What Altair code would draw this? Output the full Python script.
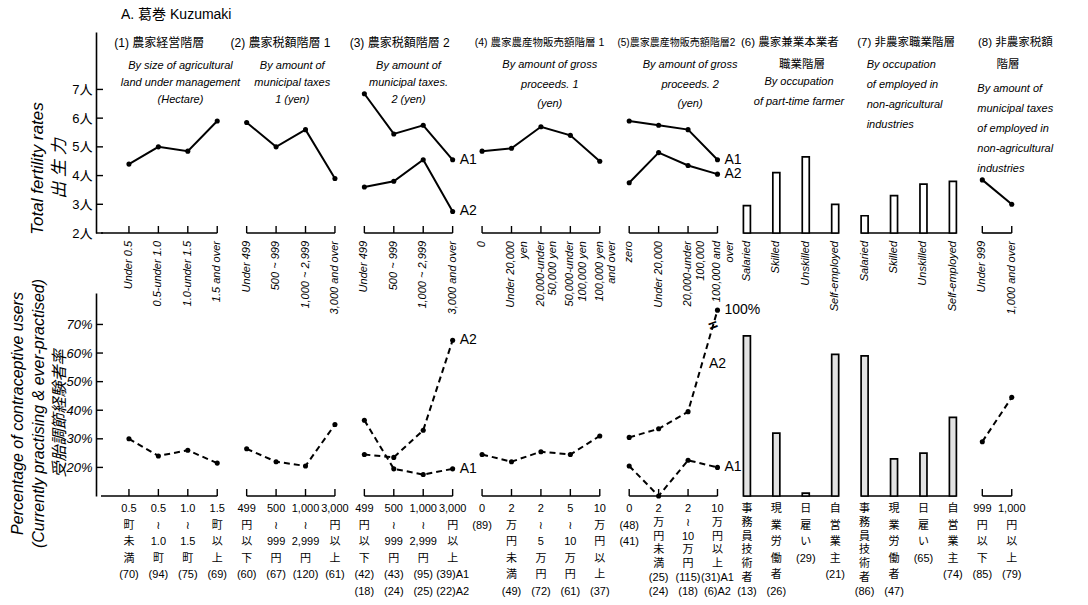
import altair as alt
import pandas as pd

# ------------------------------------------------------------------ data
title_main = "A. 葛巻  Kuzumaki"

headers = ["(1) 農家経営階層", "(2) 農家税額階層 1", "(3) 農家税額階層 2",
           "(4) 農家農産物販売額階層 1", "(5)農家農産物販売額階層2",
           "(6) 農家兼業本業者", "(7) 非農家職業階層", "(8) 非農家税額"]
headers2 = ["", "", "", "", "", "職業階層", "", "階層"]
descriptions = [
    "By size of agricultural\nland under management\n(Hectare)",
    "By amount of\nmunicipal taxes\n1          (yen)",
    "By amount of\nmunicipal taxes.\n2  (yen)",
    "By amount of gross\nproceeds. 1\n(yen)",
    "By amount of gross\nproceeds. 2\n(yen)",
    "By occupation\nof part-time farmer",
    "By occupation\nof employed in\nnon-agricultural\nindustries",
    "By amount of\nmunicipal taxes\nof employed in\nnon-agricultural\nindustries",
]

# category labels (top: English, bottom: Japanese)
p1_en = ["Under 0.5", "0.5-under 1.0", "1.0-under 1.5", "1.5 and over"]
p2_en = ["Under 499", "500 ~ 999", "1,000 ~ 2,999", "3,000 and over"]
p3_en = ["Under 499", "500 ~ 999", "1,000 ~ 2,999", "3,000 and over"]
p4_en = ["0", "Under 20,000\nyen", "20,000-under\n50,000 yen", "50,000-under\n100,000 yen", "100,000 yen\nand over"]
p5_en = ["zero", "Under 20,000", "20,000-under\n100,000", "100,000 and\nover"]
p6_en = ["Salaried", "Skilled", "Unskilled", "Self-employed"]
p7_en = ["Salaried", "Skilled", "Unskilled", "Self-employed"]
p8_en = ["Under 999", "1,000 and over"]

p1_jp = ["0.5\n町\n未\n満", "0.5\n≀\n1.0\n町", "1.0\n≀\n1.5\n町", "1.5\n町\n以\n上"]
p2_jp = ["499\n円\n以\n下", "500\n≀\n999\n円", "1,000\n≀\n2,999\n円", "3,000\n円\n以\n上"]
p3_jp = ["499\n円\n以\n下", "500\n≀\n999\n円", "1,000\n≀\n2,999\n円", "3,000\n円\n以\n上"]
p4_jp = ["0\n", "2\n万\n円\n未\n満", "2\n≀\n5\n万\n円", "5\n≀\n10\n万\n円", "10\n万\n円\n以\n上"]
p5_jp = ["0\n", "2\n万\n円\n未\n満", "2\n≀\n10\n万\n円", "10\n万\n円\n以\n上"]
p6_jp = ["事\n務\n員\n技\n術\n者", "現\n業\n労\n働\n者", "日\n\n雇\n\nい", "自\n営\n業\n主\n"]
p7_jp = ["事\n務\n員\n技\n術\n者", "現\n業\n労\n働\n者", "日\n\n雇\n\nい", "自\n営\n業\n主\n"]
p8_jp = ["999\n円\n以\n下", "1,000\n円\n以\n上"]

# sample sizes
p1_n = [70, 94, 75, 69]
p2_n = [60, 67, 120, 61]
p3_n_a1 = [42, 43, 95, 39]
p3_n_a2 = [18, 24, 25, 22]
p4_n = [89, 49, 72, 61, 37]
p5_n_a1 = [48, 25, 115, 31]
p5_n_a2 = [41, 24, 18, 6]
p6_n = [13, 26, 29, 21]
p7_n = [86, 47, 65, 74]
p8_n = [85, 79]

# total fertility rates (persons)
p1_tfr = [4.4, 5.0, 4.85, 5.9]
p2_tfr = [5.85, 5.0, 5.6, 3.9]
p3_tfr_a1 = [6.85, 5.45, 5.75, 4.55]
p3_tfr_a2 = [3.6, 3.8, 4.55, 2.75]
p4_tfr = [4.85, 4.95, 5.7, 5.4, 4.5]
p5_tfr_a1 = [5.9, 5.75, 5.6, 4.55]
p5_tfr_a2 = [3.75, 4.8, 4.35, 4.05]
p6_tfr = [2.95, 4.1, 4.65, 3.0]
p7_tfr = [2.6, 3.3, 3.7, 3.8]
p8_tfr = [3.85, 3.0]

# percentage of contraceptive users (%)
p1_cu = [30, 24, 26, 21.5]
p2_cu = [26.5, 22, 20.5, 35]
p3_cu_a1 = [36.5, 19.5, 17.5, 19.5]
p3_cu_a2 = [24.5, 23.5, 33, 64.5]
p4_cu = [24.5, 22, 25.5, 24.5, 31]
p5_cu_a1 = [20.5, 10, 22.5, 20]
p5_cu_a2 = [30.5, 33.5, 39.5, 100]
p6_cu = [66, 32, 11, 59.5]
p7_cu = [59, 23, 25, 37.5]
p8_cu = [29, 44.5]

tfr_ticks = [2, 3, 4, 5, 6, 7]
cu_ticks = [20, 30, 40, 50, 60, 70]

panels = [
    dict(en=p1_en, jp=p1_jp, ns=[p1_n], tfr=[("", p1_tfr)], cu=[("", p1_cu)], kind="line"),
    dict(en=p2_en, jp=p2_jp, ns=[p2_n], tfr=[("", p2_tfr)], cu=[("", p2_cu)], kind="line"),
    dict(en=p3_en, jp=p3_jp, ns=[p3_n_a1, p3_n_a2], tfr=[("A1", p3_tfr_a1), ("A2", p3_tfr_a2)],
         cu=[("A1", p3_cu_a1), ("A2", p3_cu_a2)], kind="line"),
    dict(en=p4_en, jp=p4_jp, ns=[p4_n], tfr=[("", p4_tfr)], cu=[("", p4_cu)], kind="line"),
    dict(en=p5_en, jp=p5_jp, ns=[p5_n_a1, p5_n_a2], tfr=[("A1", p5_tfr_a1), ("A2", p5_tfr_a2)],
         cu=[("A1", p5_cu_a1), ("A2", p5_cu_a2)], kind="line"),
    dict(en=p6_en, jp=p6_jp, ns=[p6_n], tfr=[("", p6_tfr)], cu=[("", p6_cu)], kind="bar"),
    dict(en=p7_en, jp=p7_jp, ns=[p7_n], tfr=[("", p7_tfr)], cu=[("", p7_cu)], kind="bar"),
    dict(en=p8_en, jp=p8_jp, ns=[p8_n], tfr=[("", p8_tfr)], cu=[("", p8_cu)], kind="line"),
]

# ------------------------------------------------------------------ layout
FONT = "Liberation Sans, Noto Sans CJK JP, DejaVu Sans, sans-serif"
X_MIN, X_MAX = -0.95, 31.3
W, H1, H2 = 959, 201, 203
TFR_MIN, TFR_MAX = 2, 9
CU_MIN, CU_MAX = 10, 81
CU_BREAK = 75
header_shift = [-0.5, -0.55, -0.5, -0.25, -0.4, -0.2, -0.25, -0.15]
header_size = [12, 12, 12, 10.5, 10, 11.5, 11.5, 11.5]
header2_shift = [0, 0, 0, 0, 0, 0.37, 0, 0.37]
desc_shift = [0.25, 0.05, 0.0, 0.3, 0.57, 0.27, 0.07, -0.17]
# (align, line height, top of first line in px from the plot top)
desc_style = [("center", 17, 28), ("center", 17, 28), ("center", 17, 28),
              ("center", 19.5, 27), ("center", 19.5, 27), ("center", 20, 44),
              ("left", 20, 27), ("left", 20, 51)]

cat_rows, seg_rows, tick_rows = [], [], []
tfr_rows, cu_rows, hdr_rows, hdr2_rows, desc_rows = [], [], [], [], []
tfr_lab, cu_lab = [], []
slot = 0
for pi, p in enumerate(panels):
    k = len(p["en"])
    slots = list(range(slot, slot + k))
    slot += k
    for j, s in enumerate(slots):
        lines = p["jp"][j].split("\n")
        last = j == k - 1
        if len(p["ns"]) == 1:
            lines.append(f"({p['ns'][0][j]})")
        else:
            lines.append(f"({p['ns'][0][j]})" + ("A1" if last else ""))
            lines.append(f"({p['ns'][1][j]})" + ("A2" if last else ""))
        cat_rows.append(dict(slot=s, en=p["en"][j], jp="\n".join(lines), tight=len(lines) >= 7))
    if p["kind"] == "bar":
        seg_rows.append(dict(x0=slots[0] - 0.12, x1=slots[-1] + 0.12))
    else:
        seg_rows.append(dict(x0=(X_MIN if pi == 0 else slots[0]), x1=slots[-1]))
        tick_rows += [dict(slot=s) for s in slots]
    centre = (slots[0] + slots[-1]) / 2
    hdr_rows.append(dict(slot=slots[0] + header_shift[pi], text=headers[pi], fs=header_size[pi]))
    if headers2[pi]:
        hdr2_rows.append(dict(slot=centre + header2_shift[pi], text=headers2[pi]))
    align = desc_style[pi][0]
    desc_rows.append(dict(slot=(centre if align == "center" else slots[0]) + desc_shift[pi],
                          text=descriptions[pi], grp=desc_style[pi]))
    for name, vals in p["tfr"]:
        for s, v in zip(slots, vals):
            tfr_rows.append(dict(key=f"{pi}{name}", slot=s, value=v, kind=p["kind"]))
        if name:
            tfr_lab.append(dict(slot=slots[-1], value=vals[-1], text=name))
    for name, vals in p["cu"]:
        for s, v in zip(slots, vals):
            cu_rows.append(dict(key=f"{pi}{name}", slot=s, value=min(v, CU_BREAK), raw=v, kind=p["kind"]))
        if name:
            if vals[-1] > CU_BREAK:
                a, b = min(vals[-2], CU_BREAK), CU_BREAK
                cu_lab.append(dict(slot=slots[-2] + 0.47, value=a + 0.47 * (b - a), text=name))
                cu_lab.append(dict(slot=slots[-1], value=CU_BREAK, text=f"{vals[-1]:.0f}%"))
                brk = dict(slot=slots[-2] + 0.85, value=a + 0.85 * (b - a), text="=")
            else:
                cu_lab.append(dict(slot=slots[-1], value=vals[-1], text=name))

cats = pd.DataFrame(cat_rows)
segs = pd.DataFrame(seg_rows)
ticks = pd.DataFrame(tick_rows)
tfr = pd.DataFrame(tfr_rows)
cu = pd.DataFrame(cu_rows)
hdr = pd.DataFrame(hdr_rows)
hdr2 = pd.DataFrame(hdr2_rows)
desc = pd.DataFrame(desc_rows)

xs = alt.Scale(domain=[X_MIN, X_MAX], nice=False, zero=False)
X = alt.X("slot:Q", scale=xs, axis=None)
ys_top = alt.Scale(domain=[TFR_MIN, TFR_MAX], nice=False, zero=False)
ys_bot = alt.Scale(domain=[CU_MIN, CU_MAX], nice=False, zero=False)

axis_common = dict(ticks=False, grid=False, domainColor="black", domainWidth=1.6,
                   labelColor="black", labelFont=FONT, labelFontSize=13, labelPadding=4,
                   titleFont=FONT, titleFontWeight="normal", titleFontStyle="italic",
                   titleColor="black", titleAngle=270, titleAlign="center",
                   titleBaseline="bottom")
axis_top = alt.Axis(values=tfr_ticks, labelExpr="datum.value + '人'",
                    title=["Total fertility rates", "出 生 力"], titleFontSize=17,
                    titleLineHeight=22, titleX=-50, titleY=136, **axis_common)
axis_bot = alt.Axis(values=cu_ticks, labelExpr="datum.value + '%'", labelFontStyle="italic",
                    title=["Percentage of contraceptive users",
                           "(Currently practising & ever-practised)", "受胎調節経験者率"],
                    titleFontSize=16, titleLineHeight=21, titleX=-71, titleY=120, **axis_common)
YT = alt.Y("value:Q", scale=ys_top, axis=axis_top)
YB = alt.Y("value:Q", scale=ys_bot, axis=axis_bot)


def panel_layers(df_series, Y, H, base, dash, bar_fill):
    seg = alt.Chart(segs).mark_rule(color="black", strokeWidth=1.6).encode(
        x=alt.X("x0:Q", scale=xs, axis=None), x2="x1:Q", y=alt.value(H))
    tk = alt.Chart(ticks).mark_rule(color="black", strokeWidth=1.4).encode(
        x=X, y=alt.value(H), y2=alt.value(H - 7))
    line_kw = dict(color="black", strokeWidth=2)
    if dash:
        line_kw["strokeDash"] = [6, 4]
    lines = alt.Chart(df_series[df_series.kind == "line"]).mark_line(**line_kw).encode(
        x=X, y=Y, detail="key:N")
    pts = alt.Chart(df_series[df_series.kind == "line"]).mark_circle(
        color="black", size=26, opacity=1).encode(x=X, y=Y)
    bars = alt.Chart(df_series[df_series.kind == "bar"]).mark_bar(
        fill=bar_fill, stroke="black", strokeWidth=1.7, size=7).encode(
        x=X, y=Y, y2=alt.datum(base))
    return [seg, tk, lines, pts, bars]


# ---------------- top chart
ytick_top = alt.Chart(pd.DataFrame({"value": tfr_ticks})).mark_rule(color="black", strokeWidth=1.4).encode(
    y=YT, x=alt.value(0), x2=alt.value(7))
top_layers = [ytick_top] + panel_layers(tfr, YT, H1, TFR_MIN, False, "white")
top_layers.append(alt.Chart(pd.DataFrame(tfr_lab)).mark_text(
    align="left", baseline="middle", dx=7, fontSize=14, font=FONT, color="black").encode(
    x=X, y=YT, text="text:N"))
top_layers.append(alt.Chart(cats).mark_text(
    angle=270, align="right", baseline="middle", fontSize=11, fontStyle="italic", font=FONT,
    lineBreak="\n", lineHeight=12.5, color="black").encode(x=X, y=alt.value(H1 + 8), text="en:N"))
top_layers.append(alt.Chart(hdr).mark_text(
    align="left", baseline="middle", font=FONT, color="black").encode(
    x=X, y=alt.value(11), text="text:N", size=alt.Size("fs:Q", scale=None, legend=None)))
top_layers.append(alt.Chart(hdr2).mark_text(
    align="center", baseline="middle", font=FONT, fontSize=11.5, color="black").encode(
    x=X, y=alt.value(33), text="text:N"))
for style in sorted(set(desc_style)):
    align, lh, ytop = style
    top_layers.append(alt.Chart(desc[desc.grp == style].drop(columns="grp")).mark_text(
        align=align, baseline="top", fontSize=11, fontStyle="italic", font=FONT,
        lineBreak="\n", lineHeight=lh, color="black").encode(
        x=X, y=alt.value(ytop), text="text:N"))
top_layers.append(alt.Chart(pd.DataFrame({"text": [title_main]})).mark_text(
    align="left", baseline="middle", fontSize=14, font=FONT, color="black").encode(
    x=alt.value(25), y=alt.value(-17), text="text:N"))
top = alt.layer(*top_layers).properties(width=W, height=H1)

# ---------------- bottom chart
ytick_bot = alt.Chart(pd.DataFrame({"value": cu_ticks})).mark_rule(color="black", strokeWidth=1.4).encode(
    y=YB, x=alt.value(0), x2=alt.value(7))
bot_layers = [ytick_bot] + panel_layers(cu, YB, H2, CU_MIN, True, "#e2e2e2")
bot_layers.append(alt.Chart(pd.DataFrame(cu_lab)).mark_text(
    align="left", baseline="middle", dx=7, fontSize=14, font=FONT, color="black").encode(
    x=X, y=YB, text="text:N"))
bot_layers.append(alt.Chart(pd.DataFrame([brk])).mark_text(
    align="center", baseline="middle", angle=340, fontSize=16, fontWeight="bold", font=FONT,
    color="black").encode(x=X, y=YB, text="text:N"))
for tight, lh in [(False, 16.6), (True, 13.8)]:
    bot_layers.append(alt.Chart(cats[cats.tight == tight]).mark_text(
        align="center", baseline="top", fontSize=11, font=FONT, lineBreak="\n", lineHeight=lh,
        color="black").encode(x=X, y=alt.value(H2 + 7), text="jp:N"))
bottom = alt.layer(*bot_layers).properties(width=W, height=H2)

chart = alt.vconcat(top, bottom, spacing=60, bounds="flush").properties(
    padding={"left": 8, "top": 8, "right": 2, "bottom": 0}
).configure_view(strokeWidth=0)

chart.save("out.html", embed_options={"renderer": "svg", "actions": False})
